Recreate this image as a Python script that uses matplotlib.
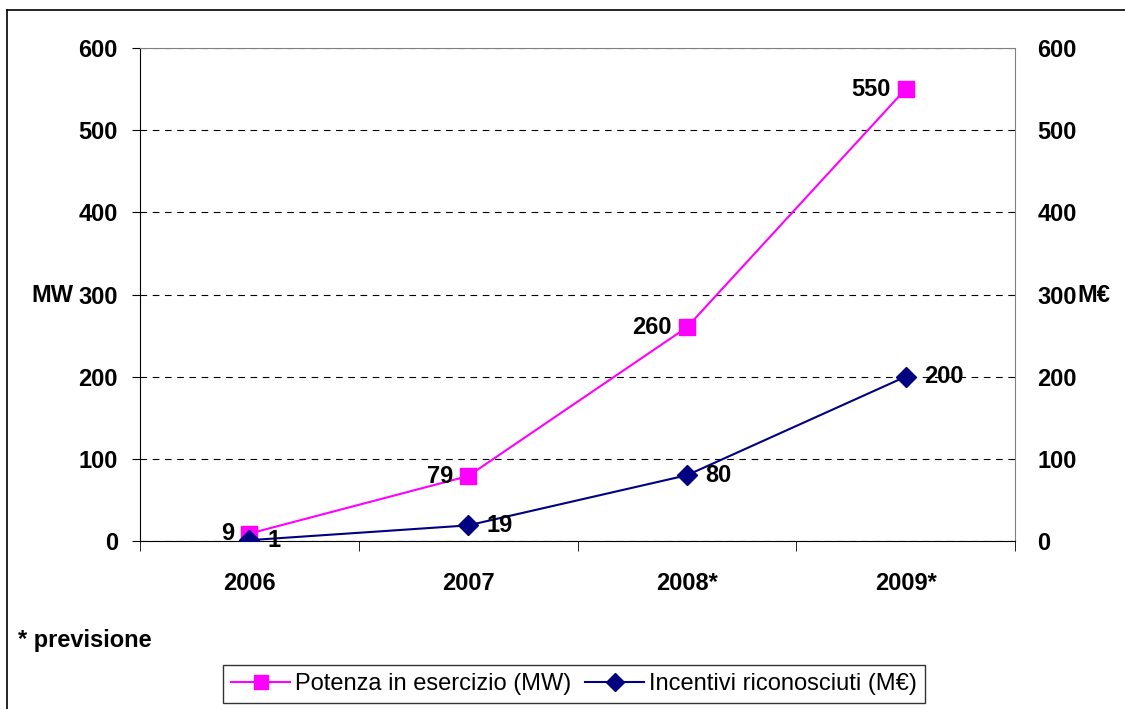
import matplotlib
matplotlib.use("Agg")
import matplotlib.pyplot as plt
from matplotlib.lines import Line2D

plt.rcParams['font.family'] = ['Liberation Sans', 'DejaVu Sans']

years = ['2006', '2007', '2008*', '2009*']
potenza = [9, 79, 260, 550]       # MW
incentivi = [1, 19, 80, 200]      # M€
yticks = [0, 100, 200, 300, 400, 500, 600]

pink = '#FF00FF'
navy = '#000080'
fs = 17

fig = plt.figure(figsize=(11.25, 7.09), dpi=100)
ax = fig.add_axes([140/1125, 1 - 541/709, 875/1125, 493/709])
x = list(range(len(years)))

ax.plot(x, potenza, color=pink, lw=1.5, marker='s', ms=11, mec=pink, mfc=pink,
        label='Potenza in esercizio (MW)', zorder=3)
ax.plot(x, incentivi, color=navy, lw=1.5, marker='D', ms=10, mec=navy, mfc=navy,
        label='Incentivi riconosciuti (M€)', zorder=3)

for xi, v in zip(x, potenza):
    ax.annotate(str(v), (xi, v), xytext=(-11, 0), textcoords='offset points',
                ha='right', va='center', fontsize=fs, fontweight='bold')
for xi, v in zip(x, incentivi):
    ax.annotate(str(v), (xi, v), xytext=(13, 0), textcoords='offset points',
                ha='left', va='center', fontsize=fs, fontweight='bold')

ax.set_xlim(-0.5, 3.5)
ax.set_ylim(0, 600)
ax.set_yticks(yticks)
ax.set_yticklabels([str(t) for t in yticks], fontsize=fs, fontweight='bold')
ax.set_xticks(x)
ax.set_xticklabels(years, fontsize=fs, fontweight='bold')
ax.tick_params(axis='x', length=0, pad=22)
ax.tick_params(axis='y', length=6, pad=10, direction='out')
# category separator ticks
ax.set_xticks([-0.5, 0.5, 1.5, 2.5, 3.5], minor=True)
ax.tick_params(axis='x', which='minor', length=7, direction='out')

ax.yaxis.grid(True, linestyle=(0, (6, 5)), color='black', lw=0.8)
ax.set_axisbelow(True)
ax.spines['top'].set_color('#808080')
ax.spines['right'].set_color('#808080')
ax.spines['left'].set_color('black')
ax.spines['bottom'].set_color('black')

ax2 = ax.twinx()
ax2.set_ylim(0, 600)
ax2.set_yticks(yticks)
ax2.set_yticklabels([str(t) for t in yticks], fontsize=fs, fontweight='bold')
ax2.tick_params(axis='y', length=0, pad=16)
for s in ax2.spines.values():
    s.set_visible(False)

fig.text(52/1125, 1 - 296/709, 'MW', fontsize=fs, fontweight='bold', ha='center', va='center')
fig.text(1077/1125, 1 - 296/709, 'M€', fontsize=fs, fontweight='bold', ha='left', va='center')
fig.text(18/1125, 1 - 640/709, '* previsione', fontsize=fs, fontweight='bold', ha='left', va='center')

leg = fig.legend(loc='center', bbox_to_anchor=(574/1125, 1 - 684/709), ncol=2,
                 fontsize=17, frameon=True, fancybox=False, shadow=False,
                 edgecolor='black', handlelength=2.5, columnspacing=0.6,
                 handletextpad=0.2, borderpad=0.35, markerscale=0.9)
leg.get_frame().set_linewidth(1.0)

# outer chart border
fig.add_artist(Line2D([7/1125, 7/1125], [0, 1 - 10/709], color='black', lw=1.2))
fig.add_artist(Line2D([7/1125, 1], [1 - 10/709, 1 - 10/709], color='black', lw=1.2))

fig.savefig('out.png', dpi=100)
